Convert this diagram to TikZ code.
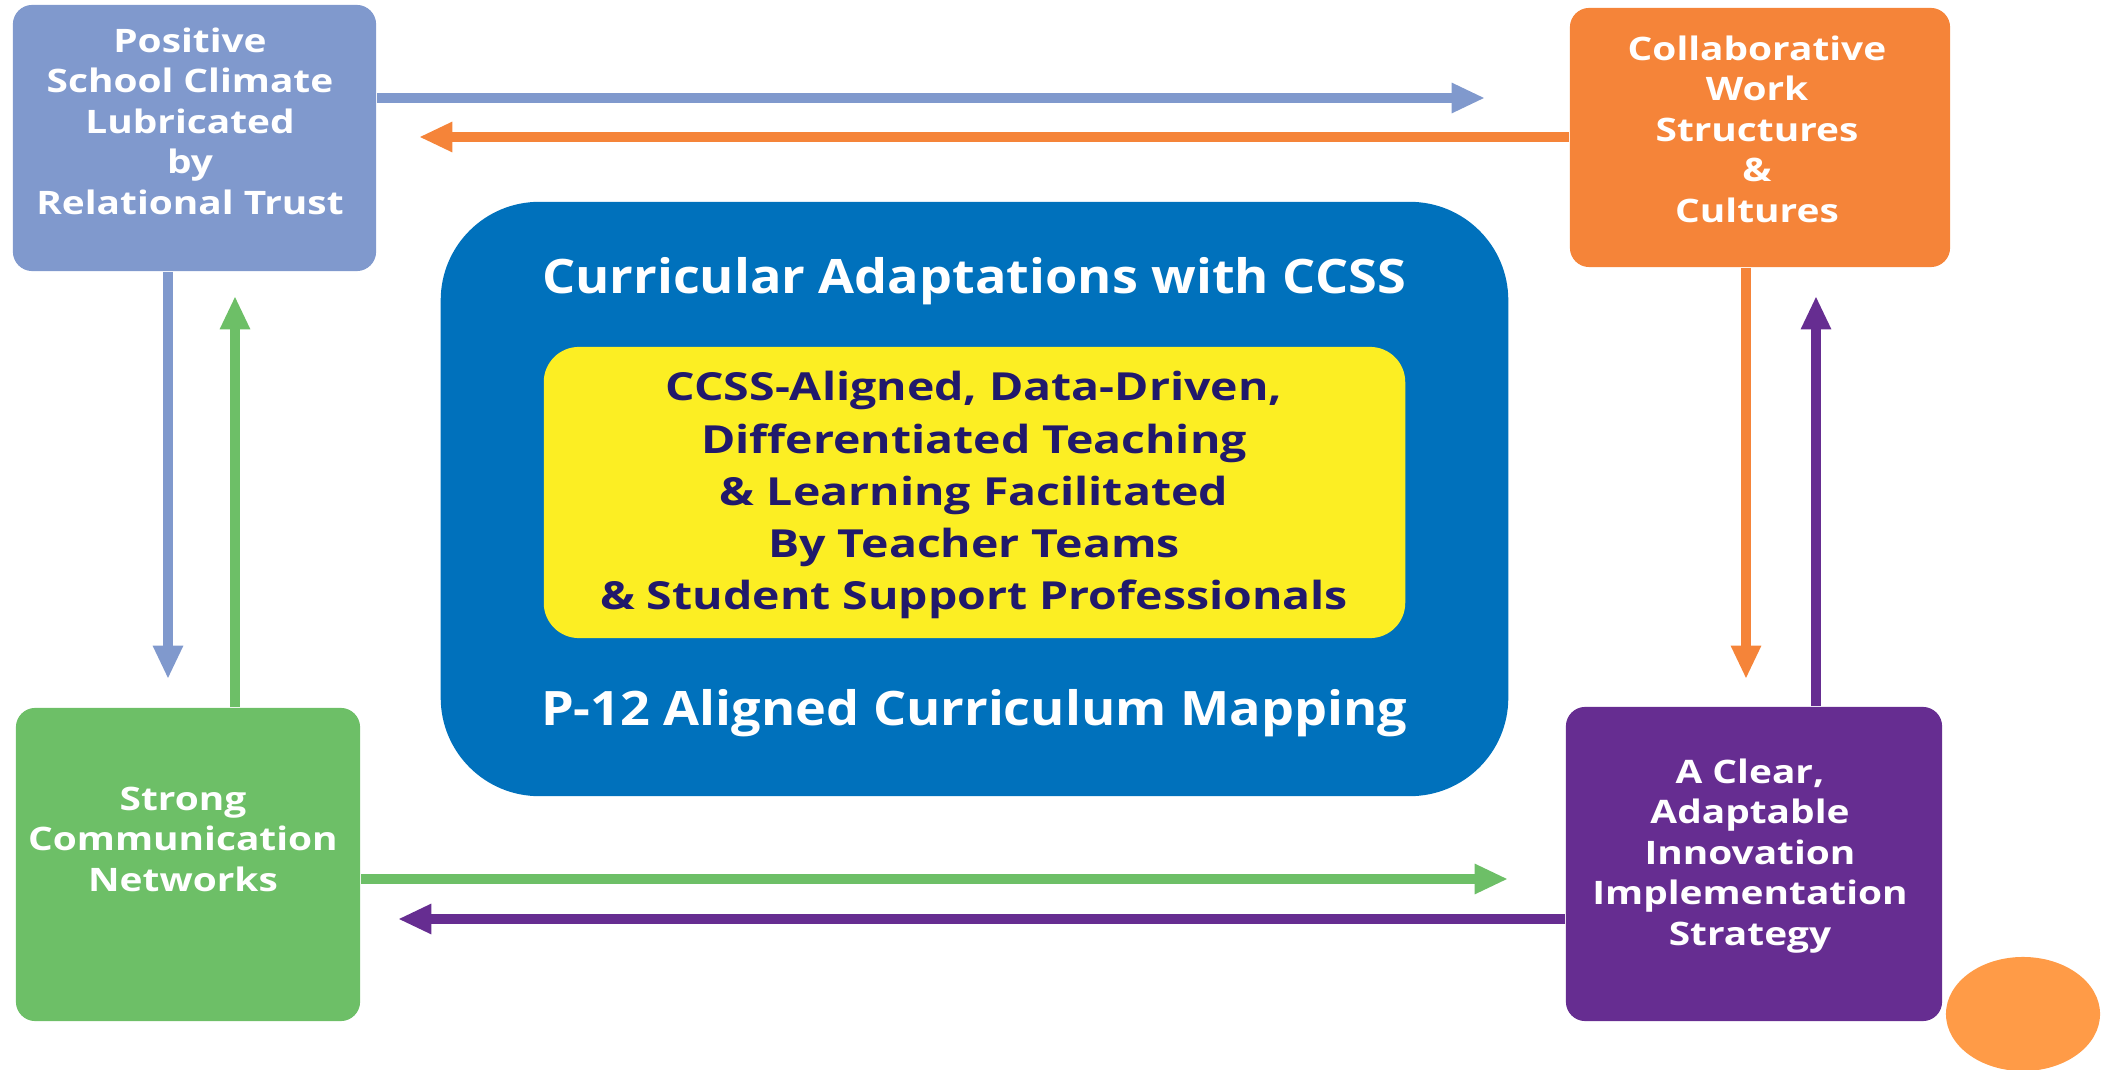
\documentclass[tikz,border=0pt]{standalone}
\usepackage{fontspec}
\setmainfont{Open Sans}
\newfontfamily\boxfont[FakeStretch=1.2]{Open Sans}
\newfontfamily\headfont[FakeStretch=1.1]{Open Sans}
\usetikzlibrary{arrows.meta,shapes.geometric}
\definecolor{lav}{HTML}{8099CD}
\definecolor{orng}{HTML}{F58439}
\definecolor{grn}{HTML}{6DBF67}
\definecolor{purp}{HTML}{662D91}
\definecolor{cblue}{HTML}{0071BC}
\definecolor{yel}{HTML}{FCEE23}
\definecolor{navy}{HTML}{21196B}
\definecolor{blob}{HTML}{FF9B47}
\tikzset{
	box/.style={rounded corners=5.5pt,inner sep=0pt},
	txt/.style={text=white,align=center,font=\boxfont\bfseries\fontsize{9.2}{11.5}\selectfont},
	arr/.style={line width=3pt,->,>={Triangle[length=9.5pt,width=8pt]}}
}
\begin{document}
\begin{tikzpicture}[x=0.01cm,y=-0.01cm]
	\useasboundingbox (0,0) rectangle (2108,1070);
	% centre block
	\node[box,fill=cblue,rounded corners=28pt,minimum width=10.67cm,minimum height=5.94cm] (mid) at (974.5,499) {};
	\node[box,fill=yel,rounded corners=10pt,minimum width=8.61cm,minimum height=2.91cm] (core) at (974.5,492.5) {};
	\node[text=white,font=\headfont\bfseries\fontsize{13.5}{16}\selectfont] (cur) at (974,281) {Curricular Adaptations with CCSS};
	\node[text=white,font=\headfont\bfseries\fontsize{13.5}{16}\selectfont] (map) at (974,713) {P-12 Aligned Curriculum Mapping};
	\node[text=navy,align=center,font=\boxfont\bfseries\fontsize{11}{14.8}\selectfont] (teach) at (974,495) {CCSS-Aligned, Data-Driven,\\Differentiated Teaching\\\& Learning Facilitated\\By Teacher Teams\\\& Student Support Professionals};
	% corner boxes
	\node[box,fill=lav,minimum width=3.63cm,minimum height=2.66cm] (tl) at (194.5,138) {};
	\node[box,fill=orng,minimum width=3.80cm,minimum height=2.59cm] (tr) at (1760,137.5) {};
	\node[box,fill=grn,minimum width=3.44cm,minimum height=3.13cm] (bl) at (188,864.5) {};
	\node[box,fill=purp,minimum width=3.76cm,minimum height=3.14cm] (br) at (1754,864) {};
	\node[txt] (tltxt) at (190,121) {Positive\\School Climate\\Lubricated\\by\\Relational Trust};
	\node[txt] (trtxt) at (1757,129) {Collaborative\\Work\\Structures\\\&\\Cultures};
	\node[txt] (bltxt) at (183,839) {Strong\\Communication\\Networks};
	\node[txt] (brtxt) at (1750,856) {A Clear,\\Adaptable\\Innovation\\Implementation\\Strategy};
	\node[ellipse,fill=blob,inner sep=0pt,minimum width=1.54cm,minimum height=1.14cm] (dot) at (2023,1014) {};
	% arrow tips
	\coordinate (lavR) at (1485,98);
	\coordinate (orL) at (419,137);
	\coordinate (lavD) at (168,679);
	\coordinate (grU) at (235,296);
	\coordinate (orD) at (1746,679);
	\coordinate (puU) at (1816,296);
	\coordinate (grR) at (1508,879);
	\coordinate (puL) at (398,919);
	\draw[arr,lav] (tl.east |- lavR) -- (lavR);
	\draw[arr,orng] (tr.west |- orL) -- (orL);
	\draw[arr,lav] (tl.south -| lavD) -- (lavD);
	\draw[arr,grn] (bl.north -| grU) -- (grU);
	\draw[arr,orng] (tr.south -| orD) -- (orD);
	\draw[arr,purp] (br.north -| puU) -- (puU);
	\draw[arr,grn] (bl.east |- grR) -- (grR);
	\draw[arr,purp] (br.west |- puL) -- (puL);
\end{tikzpicture}
\end{document}
